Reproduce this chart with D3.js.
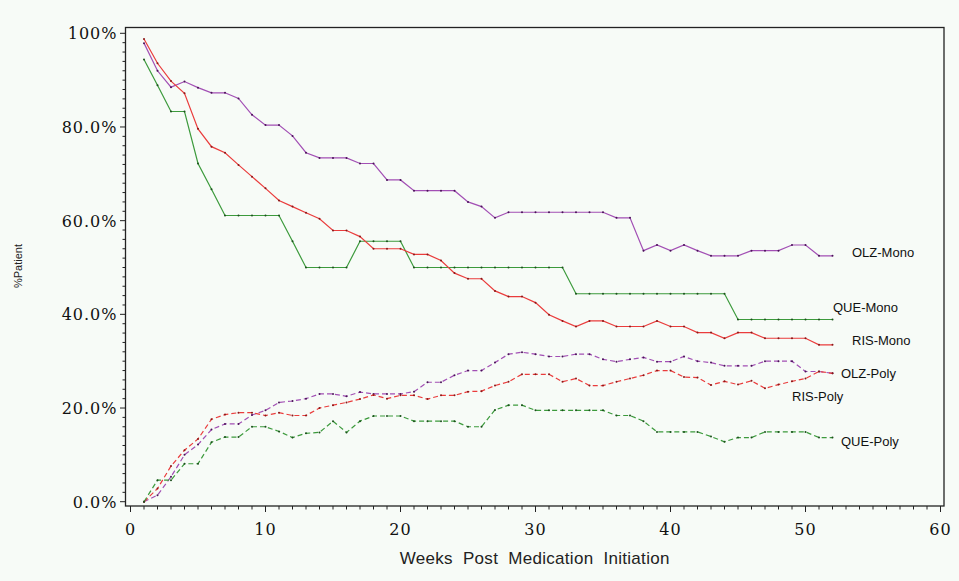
<!DOCTYPE html>
<html>
<head>
<meta charset="utf-8">
<script src="https://cdn.jsdelivr.net/npm/d3@7"></script>
<style>
  html, body { margin: 0; padding: 0; background: #f7fbf7; }
  svg { display: block; }
  .tick-label { font-family: "DejaVu Serif", serif; font-size: 16px; letter-spacing: 1px; fill: #111; }
  .series-label { font-family: "Liberation Sans", Arial, sans-serif; font-size: 13px; fill: #111; }
</style>
</head>
<body>
<div id="chart"></div>
<script>
const weeks = [1, 2, 3, 4, 5, 6, 7, 8, 9, 10, 11, 12, 13, 14, 15, 16, 17, 18, 19, 20,
  21, 22, 23, 24, 25, 26, 27, 28, 29, 30, 31, 32, 33, 34, 35, 36, 37, 38, 39, 40,
  41, 42, 43, 44, 45, 46, 47, 48, 49, 50, 51, 52];

const olzMono = [97.9, 92.0, 88.5, 89.7, 88.4, 87.3, 87.3, 86.1, 82.6, 80.4, 80.4, 78.1, 74.5, 73.4, 73.4, 73.4, 72.2, 72.2, 68.7, 68.7,
  66.4, 66.4, 66.4, 66.4, 64.0, 63.0, 60.6, 61.8, 61.8, 61.8, 61.8, 61.8, 61.8, 61.8, 61.8, 60.6, 60.6, 53.6, 54.8, 53.6,
  54.8, 53.6, 52.5, 52.5, 52.5, 53.6, 53.6, 53.6, 54.8, 54.8, 52.5, 52.5];

const queMono = [94.4, 88.9, 83.3, 83.3, 72.2, 66.7, 61.1, 61.1, 61.1, 61.1, 61.1, 55.6, 50.0, 50.0, 50.0, 50.0, 55.6, 55.6, 55.6, 55.6,
  50.0, 50.0, 50.0, 50.0, 50.0, 50.0, 50.0, 50.0, 50.0, 50.0, 50.0, 50.0, 44.4, 44.4, 44.4, 44.4, 44.4, 44.4, 44.4, 44.4,
  44.4, 44.4, 44.4, 44.4, 38.9, 38.9, 38.9, 38.9, 38.9, 38.9, 38.9, 38.9];

const risMono = [98.8, 93.6, 89.8, 87.2, 79.6, 75.8, 74.5, 71.9, 69.4, 66.9, 64.3, 63.0, 61.7, 60.4, 57.9, 57.9, 56.6, 54.0, 54.0, 54.0,
  52.8, 52.8, 51.5, 48.8, 47.6, 47.6, 45.0, 43.8, 43.8, 42.5, 39.9, 38.6, 37.4, 38.6, 38.6, 37.4, 37.4, 37.4, 38.6, 37.4,
  37.4, 36.1, 36.1, 34.9, 36.1, 36.1, 34.9, 34.9, 34.9, 34.9, 33.5, 33.5];

const olzPoly = [0, 1.4, 5.3, 10.0, 12.2, 15.4, 16.6, 16.6, 18.5, 19.5, 21.2, 21.5, 22.0, 23.0, 23.0, 22.5, 23.4, 23.0, 23.0, 23.0,
  23.5, 25.5, 25.5, 27.0, 28.0, 28.0, 29.7, 31.5, 31.9, 31.5, 31.0, 31.0, 31.5, 31.5, 30.4, 29.9, 30.4, 30.8, 29.9, 29.9,
  31.0, 30.0, 29.7, 29.0, 29.0, 29.0, 30.0, 30.0, 30.0, 27.8, 27.8, 27.4];

const risPoly = [0, 2.8, 7.6, 11.0, 13.4, 17.6, 18.6, 19.0, 19.0, 18.4, 19.0, 18.4, 18.4, 20.0, 20.6, 21.2, 21.9, 22.8, 22.0, 22.7,
  22.7, 21.9, 22.7, 22.7, 23.5, 23.6, 24.8, 25.6, 27.2, 27.2, 27.2, 25.6, 26.3, 24.8, 24.8, 25.6, 26.3, 27.0, 28.0, 28.0,
  26.6, 26.5, 24.9, 25.7, 25.0, 25.8, 24.2, 25.0, 25.7, 26.3, 27.8, 27.4];

const quePoly = [0, 4.6, 4.6, 8.1, 8.1, 12.7, 13.8, 13.8, 16.0, 16.0, 15.0, 13.7, 14.6, 14.8, 17.2, 14.8, 17.2, 18.3, 18.3, 18.3,
  17.2, 17.2, 17.2, 17.2, 16.0, 16.0, 19.6, 20.6, 20.6, 19.5, 19.5, 19.5, 19.5, 19.5, 19.5, 18.4, 18.4, 17.2, 14.9, 14.9,
  14.9, 14.9, 13.9, 12.8, 13.7, 13.7, 14.9, 14.9, 14.9, 14.9, 13.7, 13.7];

const xTicks = [0, 10, 20, 30, 40, 50, 60];
const yTicks = [0, 20, 40, 60, 80, 100];
const yTickLabels = ['0.0%', '20.0%', '40.0%', '60.0%', '80.0%', '100%'];

const width = 959;
const height = 581;

// plot frame
const frame = { left: 125.5, top: 27.5, right: 944, bottom: 506 };

const svg = d3.select('#chart')
  .append('svg')
  .attr('width', width)
  .attr('height', height);

svg.append('rect')
  .attr('width', width)
  .attr('height', height)
  .attr('fill', '#f7fbf7');

const x = d3.scaleLinear().domain([0, 60]).range([130.5, 940.5]);
const y = d3.scaleLinear().domain([0, 100]).range([501.7, 33.3]);

// frame
svg.append('rect')
  .attr('x', frame.left)
  .attr('y', frame.top)
  .attr('width', frame.right - frame.left)
  .attr('height', frame.bottom - frame.top)
  .attr('fill', 'none')
  .attr('stroke', '#222')
  .attr('stroke-width', 1.3);

// x axis ticks (one per week, long ones every 10)
const xAxis = svg.append('g').attr('transform', `translate(0,${frame.bottom})`);
xAxis.selectAll('line')
  .data(d3.range(0, 61))
  .enter()
  .append('line')
  .attr('x1', (d) => x(d))
  .attr('x2', (d) => x(d))
  .attr('y1', 0)
  .attr('y2', (d) => (d % 10 === 0 ? 6 : 3.5))
  .attr('stroke', '#222')
  .attr('stroke-width', 1);
xAxis.selectAll('text')
  .data(xTicks)
  .enter()
  .append('text')
  .attr('class', 'tick-label')
  .attr('x', (d) => x(d))
  .attr('y', 29)
  .attr('text-anchor', 'middle')
  .text((d) => d);

// y axis ticks (every 2 %, long ones every 20)
const yAxis = svg.append('g').attr('transform', `translate(${frame.left},0)`);
yAxis.selectAll('line')
  .data(d3.range(0, 101, 2))
  .enter()
  .append('line')
  .attr('y1', (d) => y(d))
  .attr('y2', (d) => y(d))
  .attr('x1', 0)
  .attr('x2', (d) => (d % 20 === 0 ? -5.5 : -3))
  .attr('stroke', '#222')
  .attr('stroke-width', 1);
yAxis.selectAll('text')
  .data(yTicks)
  .enter()
  .append('text')
  .attr('class', 'tick-label')
  .attr('x', -8)
  .attr('y', (d) => y(d) + 6)
  .attr('text-anchor', 'end')
  .text((d, i) => yTickLabels[i]);

// axis titles
svg.append('text')
  .attr('x', (frame.left + frame.right) / 2)
  .attr('y', 564)
  .attr('text-anchor', 'middle')
  .style('font-family', '"Liberation Sans", Arial, sans-serif')
  .style('font-size', '17px')
  .style('letter-spacing', '0.3px')
  .style('word-spacing', '5px')
  .attr('fill', '#222')
  .text('Weeks Post Medication Initiation');

svg.append('text')
  .attr('transform', 'translate(22,266) rotate(-90)')
  .attr('text-anchor', 'middle')
  .style('font-family', '"Liberation Sans", Arial, sans-serif')
  .style('font-size', '11px')
  .attr('fill', '#222')
  .text('%Patient');

const series = [
  { name: 'OLZ-Mono', values: olzMono, color: '#a24fb4', dot: '#4a1458', dash: null },
  { name: 'QUE-Mono', values: queMono, color: '#3c9a3c', dot: '#1c501c', dash: null },
  { name: 'RIS-Mono', values: risMono, color: '#ea3c3c', dot: '#8a1818', dash: null },
  { name: 'OLZ-Poly', values: olzPoly, color: '#a24fb4', dot: '#4a1458', dash: '5,3' },
  { name: 'RIS-Poly', values: risPoly, color: '#ea3c3c', dot: '#8a1818', dash: '5,3' },
  { name: 'QUE-Poly', values: quePoly, color: '#3c9a3c', dot: '#1c501c', dash: '5,3' },
];

// label anchor points (left edge, vertical middle) in pixels
const labelPos = {
  'OLZ-Mono': [852, 252],
  'QUE-Mono': [833, 307],
  'RIS-Mono': [852, 340],
  'OLZ-Poly': [841, 373],
  'RIS-Poly': [792, 396],
  'QUE-Poly': [841, 441],
};

const line = d3.line()
  .x((d) => x(d[0]))
  .y((d) => y(d[1]));

series.forEach((s) => {
  const pts = weeks.map((w, i) => [w, s.values[i]]);

  svg.append('path')
    .datum(pts)
    .attr('d', line)
    .attr('fill', 'none')
    .attr('stroke', s.color)
    .attr('stroke-width', 1.2)
    .attr('stroke-dasharray', s.dash);

  svg.append('g')
    .selectAll('circle')
    .data(pts)
    .enter()
    .append('circle')
    .attr('cx', (d) => x(d[0]))
    .attr('cy', (d) => y(d[1]))
    .attr('r', 1)
    .attr('fill', s.dot);

  svg.append('text')
    .attr('class', 'series-label')
    .attr('x', labelPos[s.name][0])
    .attr('y', labelPos[s.name][1] + 4.5)
    .text(s.name);
});
</script>
</body>
</html>
